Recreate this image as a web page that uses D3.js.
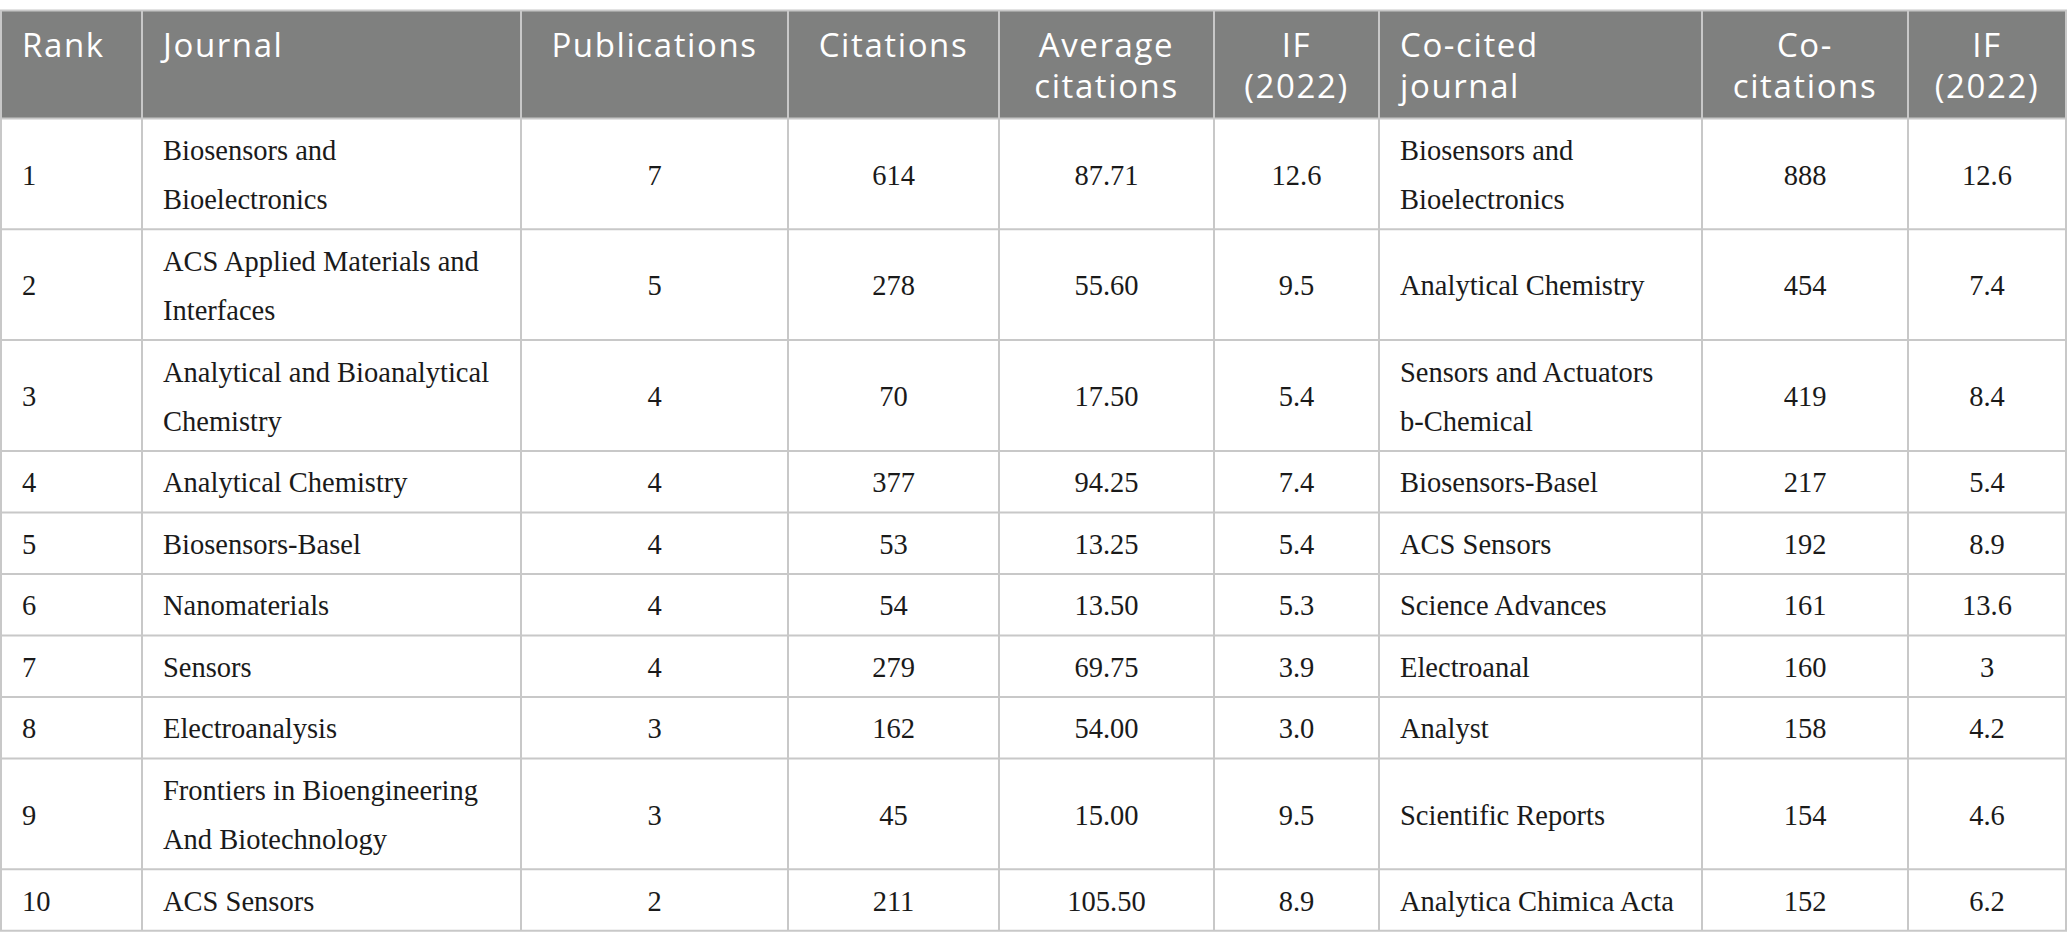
<!DOCTYPE html>
<html>
<head>
<meta charset="utf-8">
<script src="https://cdn.jsdelivr.net/npm/d3@7"></script>
<style>
  html, body { margin: 0; padding: 0; background: #ffffff; }
  svg { display: block; }
</style>
</head>
<body>
<svg id="chart" width="2067" height="951"></svg>
<script>
// ---------------- data ----------------
const headerLabels = [
  ["Rank"], ["Journal"], ["Publications"], ["Citations"],
  ["Average", "citations"], ["IF", "(2022)"], ["Co-cited", "journal"],
  ["Co-", "citations"], ["IF", "(2022)"]
];
const ranks = [1, 2, 3, 4, 5, 6, 7, 8, 9, 10];
const journals = [
  "Biosensors and Bioelectronics",
  "ACS Applied Materials and Interfaces",
  "Analytical and Bioanalytical Chemistry",
  "Analytical Chemistry",
  "Biosensors-Basel",
  "Nanomaterials",
  "Sensors",
  "Electroanalysis",
  "Frontiers in Bioengineering And Biotechnology",
  "ACS Sensors"
];
const publications = [7, 5, 4, 4, 4, 4, 4, 3, 3, 2];
const citations = [614, 278, 70, 377, 53, 54, 279, 162, 45, 211];
const avgCitations = [87.71, 55.60, 17.50, 94.25, 13.25, 13.50, 69.75, 54.00, 15.00, 105.50];
const impactFactor = [12.6, 9.5, 5.4, 7.4, 5.4, 5.3, 3.9, 3.0, 9.5, 8.9];
const coCitedJournals = [
  "Biosensors and Bioelectronics",
  "Analytical Chemistry",
  "Sensors and Actuators b-Chemical",
  "Biosensors-Basel",
  "ACS Sensors",
  "Science Advances",
  "Electroanal",
  "Analyst",
  "Scientific Reports",
  "Analytica Chimica Acta"
];
const coCitations = [888, 454, 419, 217, 192, 161, 160, 158, 154, 152];
const coCitedIF = [12.6, 7.4, 8.4, 5.4, 8.9, 13.6, 3, 4.2, 4.6, 6.2];

// ---------------- layout / style ----------------
const colEdges = [1, 142, 521, 788, 999, 1214, 1379, 1702, 1908, 2066];
const colAlign = ["left", "left", "middle", "middle", "middle", "middle", "left", "middle", "middle"];
const padX = 21;
const tableTop = 10.5;
const headerH = 108;
const lineH = 49.3;
const rowPad = 12.2;
const bodyFont = "'Liberation Serif', 'Times New Roman', serif";
const bodySize = 28.5;
const headFont = "'Open Sans', 'Noto Sans', sans-serif";
const headSize = 33;
const headLineH = 41.5;
const wrapWidth = 330;

const fmt2 = d3.format(".2f");
const fmt1 = d3.format(".1f");

const rows = ranks.map((r, i) => [
  String(r),
  journals[i],
  String(publications[i]),
  String(citations[i]),
  fmt2(avgCitations[i]),
  fmt1(impactFactor[i]),
  coCitedJournals[i],
  String(coCitations[i]),
  String(coCitedIF[i])
]);

const svg = d3.select("#chart");

// measuring helper for wrapping
const measure = svg.append("text")
  .attr("font-family", bodyFont)
  .attr("font-size", bodySize)
  .attr("visibility", "hidden");
function wrap(str) {
  const words = str.split(" ");
  const lines = [];
  let cur = "";
  words.forEach(w => {
    const test = cur ? cur + " " + w : w;
    measure.text(test);
    if (measure.node().getComputedTextLength() > wrapWidth && cur) {
      lines.push(cur);
      cur = w;
    } else {
      cur = test;
    }
  });
  if (cur) lines.push(cur);
  return lines;
}

const cellLines = rows.map(r => r.map(s => wrap(s)));
measure.remove();

const rowLineCounts = cellLines.map(r => d3.max(r, c => c.length));
const rowHeights = rowLineCounts.map(n => n * lineH + rowPad);
const rowEdges = [tableTop, tableTop + headerH];
rowHeights.forEach(h => rowEdges.push(rowEdges[rowEdges.length - 1] + h));

// column x helpers
const colIndex = d3.range(colEdges.length - 1);
const xLeft = d3.scaleOrdinal().domain(colIndex).range(colEdges.slice(0, -1));
const xRight = d3.scaleOrdinal().domain(colIndex).range(colEdges.slice(1));
function textX(c) {
  return colAlign[c] === "left" ? xLeft(c) + padX : (xLeft(c) + xRight(c)) / 2;
}

// header background
svg.append("rect")
  .attr("x", colEdges[0] - 1)
  .attr("y", tableTop)
  .attr("width", colEdges[colEdges.length - 1] - colEdges[0] + 2)
  .attr("height", headerH)
  .attr("fill", "#7f807f");

// header text (one text element per line)
const headItems = [];
headerLabels.forEach((lines, c) => lines.forEach((l, k) => headItems.push({ c, k, l })));
svg.append("g").attr("class", "header")
  .selectAll("text").data(headItems).join("text")
  .attr("x", d => textX(d.c))
  .attr("y", d => tableTop + 46.3 + d.k * headLineH)
  .attr("text-anchor", d => colAlign[d.c] === "left" ? "start" : "middle")
  .attr("font-family", headFont)
  .attr("font-size", headSize)
  .attr("font-weight", 400)
  .attr("letter-spacing", "1.6px")
  .attr("fill", "#ffffff")
  .text(d => d.l);

// body text (one text element per line)
const bodyItems = [];
cellLines.forEach((r, ri) => {
  const cy = (rowEdges[ri + 1] + rowEdges[ri + 2]) / 2;
  r.forEach((lines, c) => {
    const n = lines.length;
    lines.forEach((l, k) => bodyItems.push({ c, l, y: cy + (k - (n - 1) / 2) * lineH + 10.7 }));
  });
});
svg.append("g").attr("class", "body")
  .selectAll("text").data(bodyItems).join("text")
  .attr("x", d => textX(d.c))
  .attr("y", d => d.y)
  .attr("text-anchor", d => colAlign[d.c] === "left" ? "start" : "middle")
  .attr("font-family", bodyFont)
  .attr("font-size", bodySize)
  .attr("fill", "#1a1a1a")
  .text(d => d.l);

// grid lines
const gg = svg.append("g").attr("class", "grid")
  .attr("stroke", "#c8c8c8").attr("stroke-width", 2);
gg.selectAll("line.h").data(rowEdges).join("line")
  .attr("class", "h")
  .attr("x1", colEdges[0] - 1).attr("x2", colEdges[colEdges.length - 1] + 1)
  .attr("y1", d => d).attr("y2", d => d);
gg.selectAll("line.v").data(colEdges).join("line")
  .attr("class", "v")
  .attr("x1", d => d).attr("x2", d => d)
  .attr("y1", rowEdges[0]).attr("y2", rowEdges[rowEdges.length - 1]);
</script>
</body>
</html>
